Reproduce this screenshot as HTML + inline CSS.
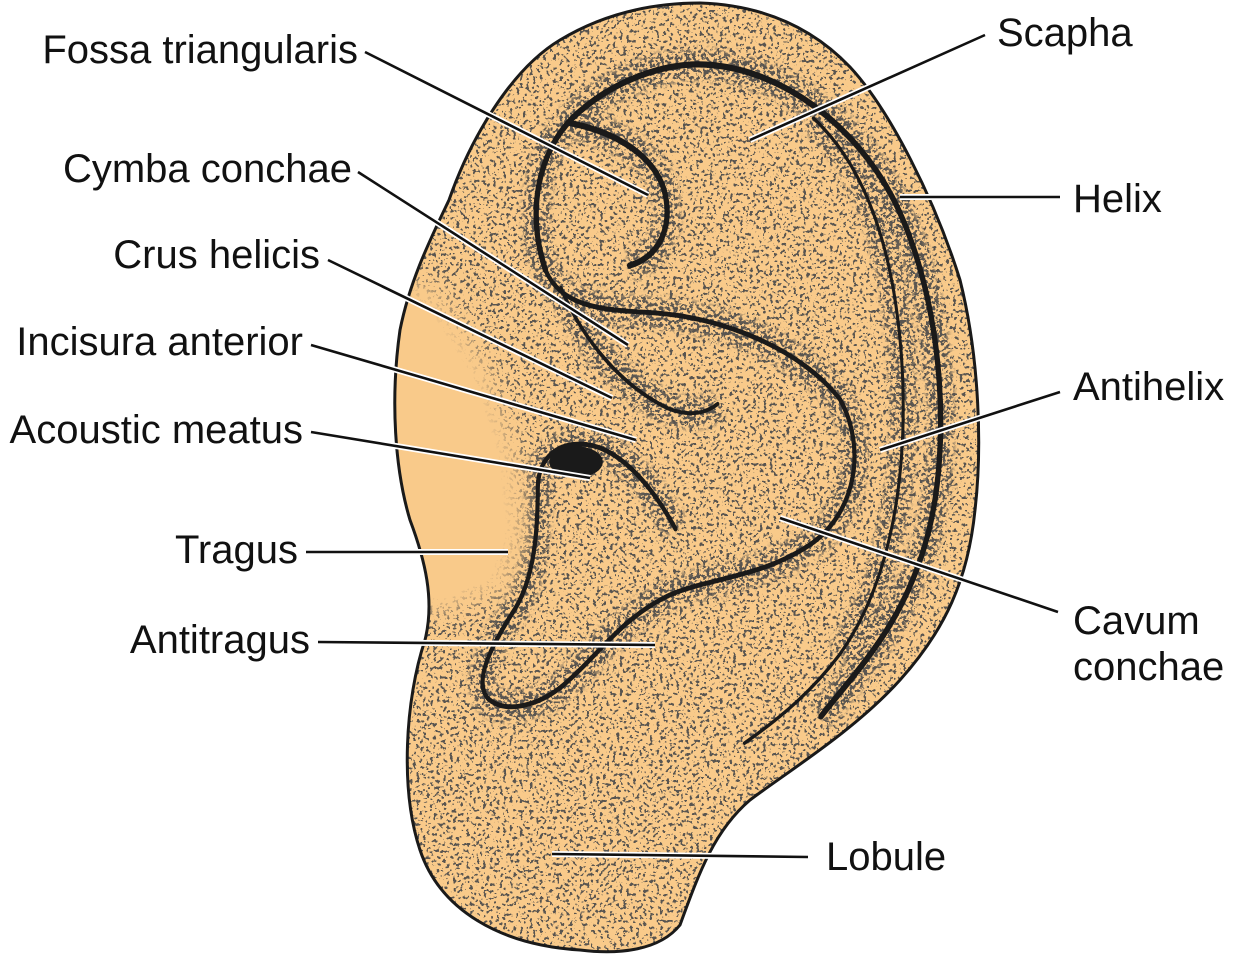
<!DOCTYPE html>
<html><head><meta charset="utf-8"><style>
html,body{margin:0;padding:0;background:#fff;overflow:hidden;width:1242px;height:966px;}
svg{display:block;}
text{font-family:"Liberation Sans",Arial,sans-serif;font-size:40px;fill:#111;}
</style></head><body>
<svg width="1242" height="966" viewBox="0 0 1242 966" xmlns="http://www.w3.org/2000/svg">
<defs>
<filter id="st" x="0" y="0" width="1242" height="966" filterUnits="userSpaceOnUse" primitiveUnits="userSpaceOnUse">
<feTurbulence type="fractalNoise" baseFrequency="0.3" numOctaves="2" seed="5" result="n"/>
<feColorMatrix in="n" type="matrix" values="0 0 0 0 0.1  0 0 0 0 0.09  0 0 0 0 0.08  -30 0 0 0 12.2"/>
</filter>
<filter id="st2" x="0" y="0" width="1242" height="966" filterUnits="userSpaceOnUse" primitiveUnits="userSpaceOnUse">
<feTurbulence type="fractalNoise" baseFrequency="0.28" numOctaves="2" seed="11" result="n"/>
<feColorMatrix in="n" type="matrix" values="0 0 0 0 0.1  0 0 0 0 0.09  0 0 0 0 0.08  -30 0 0 0 13.8"/>
</filter>
<filter id="bl"><feGaussianBlur stdDeviation="12"/></filter>
<filter id="bl2"><feGaussianBlur stdDeviation="7"/></filter>
<clipPath id="ear"><path id="earp" d="M 449,200 C 470,140 510,70 560,40 C 610,10 660,3 700,3 C 760,5 810,25 850,67 C 890,110 935,200 960,280 C 980,360 982,450 975,510 C 968,580 945,630 900,680 C 855,730 790,770 750,800 C 715,830 700,870 680,925 C 660,950 620,955 580,950 C 500,945 440,910 420,850 C 400,790 405,700 425,640 C 435,600 425,560 410,520 C 395,470 390,400 400,330 C 410,280 430,240 449,200 Z"/></clipPath>
<mask id="m"><rect width="1242" height="966" fill="#000"/>
<g transform="translate(400,20) scale(0.3827,0.4464)" fill="none" stroke="#fff" stroke-width="70" filter="url(#bl2)">
<path d="M 380,560 C 330,430 360,300 450,220 C 560,130 700,95 800,100 C 1000,110 1200,240 1300,420 C 1420,640 1440,950 1380,1150 C 1320,1350 1200,1450 1100,1560"/>
<path d="M 1080,220 C 1220,330 1290,520 1310,750 C 1330,1000 1290,1250 1150,1420"/>
<path d="M 600,550 C 680,530 715,460 690,380 C 660,300 560,250 440,230"/>
<path d="M 380,560 C 420,640 520,650 650,655 C 850,665 1050,740 1150,850 C 1220,960 1190,1100 1080,1170 C 950,1250 800,1250 700,1290 C 580,1340 520,1420 440,1480 C 380,1530 280,1560 230,1520 C 190,1480 240,1400 300,1320 C 350,1250 360,1150 360,1050 C 360,990 400,950 470,950 C 560,950 650,1030 720,1140"/>
<path d="M 420,600 C 480,720 580,820 700,870 C 760,890 800,880 830,860"/>
</g></mask>
</defs>
<use href="#earp" fill="#F9CA8A"/>
<g clip-path="url(#ear)">
<rect width="1242" height="966" filter="url(#st)"/>
<rect width="1242" height="966" filter="url(#st2)" mask="url(#m)"/>
<path d="M 385,270 L 440,290 L 490,370 L 520,460 L 525,540 L 505,590 L 440,615 L 395,600 Z" fill="#F9CA8A" filter="url(#bl)"/>
<path d="M 385,300 L 430,310 L 475,380 L 500,460 L 505,535 L 490,580 L 440,600 L 395,590 Z" fill="#F9CA8A"/>
</g>
<use href="#earp" fill="none" stroke="#1a1a1a" stroke-width="3"/>
<g transform="translate(400,20) scale(0.3827,0.4464)">
<g fill="none" stroke="#1a1a1a" stroke-linecap="round">
<path d="M 380,560 C 330,430 360,300 450,220 C 560,130 700,95 800,100 C 1000,110 1200,240 1300,420 C 1420,640 1440,950 1380,1150 C 1320,1350 1200,1450 1100,1560" stroke-width="14"/>
<path d="M 1080,220 C 1220,330 1290,520 1310,750 C 1330,1000 1290,1250 1150,1420 C 1080,1500 1000,1560 900,1620" stroke-width="8"/>
<path d="M 600,550 C 680,530 715,460 690,380 C 660,300 560,250 440,230" stroke-width="14"/>
<path d="M 380,560 C 420,640 520,650 650,655 C 850,665 1050,740 1150,850 C 1220,960 1190,1100 1080,1170 C 950,1250 800,1250 700,1290 C 580,1340 520,1420 440,1480 C 380,1530 280,1560 230,1520 C 190,1480 240,1400 300,1320 C 350,1250 360,1150 360,1050 C 360,990 400,950 470,950 C 560,950 650,1030 720,1140" stroke-width="11"/>
<path d="M 420,600 C 480,720 580,820 700,870 C 760,890 800,880 830,860" stroke-width="9"/>
</g>
<ellipse cx="460" cy="990" rx="70" ry="35" fill="#1a1a1a"/>
</g>
<g fill="none">
<g stroke="#fff" stroke-width="6">
<path d="M365,52 L648,195 M985,35 L750,140 M358,172 L628,345 M900,197 L1060,197 M328,260 L612,398 M311,345 L636,440 M1060,392 L880,450 M311,432 L590,478 M306,552 L508,552 M1058,612 L780,518 M318,642 L655,645 M808,857 L552,854"/>
</g>
<g stroke="#111" stroke-width="2.6">
<path d="M365,52 L648,195 M985,35 L750,140 M358,172 L628,345 M900,197 L1060,197 M328,260 L612,398 M311,345 L636,440 M1060,392 L880,450 M311,432 L590,478 M306,552 L508,552 M1058,612 L780,518 M318,642 L655,645 M808,857 L552,854"/>
</g>
</g>
<text x="358" y="63" text-anchor="end">Fossa triangularis</text>
<text x="997" y="46">Scapha</text>
<text x="352" y="182" text-anchor="end">Cymba conchae</text>
<text x="1073" y="212">Helix</text>
<text x="320" y="268" text-anchor="end">Crus helicis</text>
<text x="303" y="355" text-anchor="end">Incisura anterior</text>
<text x="1073" y="400">Antihelix</text>
<text x="303" y="443" text-anchor="end">Acoustic meatus</text>
<text x="298" y="563" text-anchor="end">Tragus</text>
<text x="1073" y="634">Cavum</text>
<text x="1073" y="680">conchae</text>
<text x="310" y="653" text-anchor="end">Antitragus</text>
<text x="826" y="870">Lobule</text>
</svg>
</body></html>
